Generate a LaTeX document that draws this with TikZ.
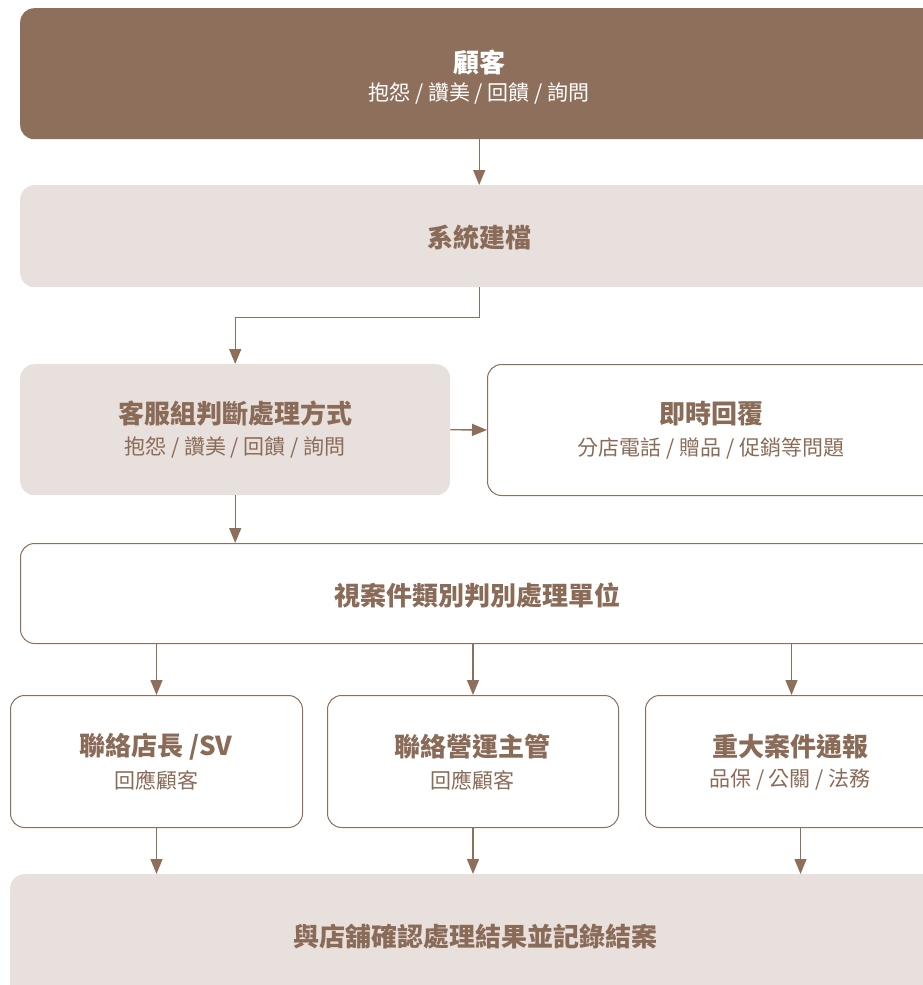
\documentclass[tikz,border=0pt]{standalone}
\usepackage{fontspec}
\setmainfont{Noto Sans CJK TC}
\usetikzlibrary{arrows.meta}
\definecolor{dk}{HTML}{8E6F5C}
\definecolor{lt}{HTML}{E8E0DC}
\definecolor{tx}{HTML}{8A6B58}
\definecolor{ln}{HTML}{8E6F5C}
\begin{document}
\begin{tikzpicture}[x=1pt,y=-1pt,
  box/.style={rectangle, rounded corners=14pt, anchor=north west, inner sep=0pt},
  darkbox/.style={box, fill=dk},
  lightbox/.style={box, fill=lt},
  linebox/.style={box, draw=ln, line width=1pt, fill=white},
  ttl/.style={text=tx, font=\bfseries\fontsize{26}{30}\selectfont},
  sub/.style={text=tx, font=\fontsize{21}{25}\selectfont},
  arr/.style={draw=ln, line width=1.4pt, -{Triangle[length=15pt,width=12pt]}}
]
\useasboundingbox (0,0) rectangle (923,985);
\clip (0,0) rectangle (923,985);

% boxes
\node[darkbox, minimum width=918pt, minimum height=131pt] (a) at (20,8) {};
\node[lightbox, minimum width=918pt, minimum height=102pt] (b) at (20,185) {};
\node[lightbox, minimum width=430pt, minimum height=131pt] (c) at (20,364) {};
\node[linebox, minimum width=450pt, minimum height=131pt] (d) at (487,364) {};
\node[linebox, minimum width=918pt, minimum height=100pt] (e) at (20,543) {};
\node[linebox, minimum width=292pt, minimum height=132pt] (f) at (10,695) {};
\node[linebox, minimum width=291pt, minimum height=132pt] (g) at (327,695) {};
\node[linebox, minimum width=292pt, minimum height=132pt] (h) at (645,695) {};
\node[lightbox, minimum width=930pt, minimum height=125pt] (k) at (10,874) {};

% texts
\node[ttl, text=white] (at) at (479,62) {顧客};
\node[sub, text=white] (as) at (479,93) {抱怨 / 讚美 / 回饋 / 詢問};
\node[ttl] (bt) at (479,238) {系統建檔};
\node[ttl] (ct) at (235,414) {客服組判斷處理方式};
\node[sub] (cs) at (235,447) {抱怨 / 讚美 / 回饋 / 詢問};
\node[ttl] (dt) at (711,414) {即時回覆};
\node[sub] (ds) at (711,448) {分店電話 / 贈品 / 促銷等問題};
\node[ttl] (et) at (477,595) {視案件類別判別處理單位};
\node[ttl] (ft) at (156,747) {聯絡店長 /SV};
\node[sub] (fs) at (156,780) {回應顧客};
\node[ttl] (gt) at (472,747) {聯絡營運主管};
\node[sub] (gs) at (472,780) {回應顧客};
\node[ttl] (ht) at (790,747) {重大案件通報};
\node[sub] (hs) at (790,780) {品保 / 公關 / 法務};
\node[ttl] (kt) at (475,937) {與店舖確認處理結果並記錄結案};

% connectors
\draw[arr] (a.south) -- (b.north);
\draw[arr] (b.south) -- ++(0,30) -| (c.south |- c.north);
\draw[arr] (c.east) -- (d.west);
\draw[arr] (c.south) -- (c.south |- e.north);
\draw[arr] (f.north |- e.south) -- (f.north);
\draw[arr] (g.north |- e.south) -- (g.north);
\draw[arr] (h.north |- e.south) -- (h.north);
\draw[arr] (f.south) -- (f.south |- k.north);
\draw[arr] (g.south) -- (g.south |- k.north);
\draw[arr] ([xshift=9pt]h.south) -- ([xshift=9pt]h.south |- k.north);
\end{tikzpicture}
\end{document}
